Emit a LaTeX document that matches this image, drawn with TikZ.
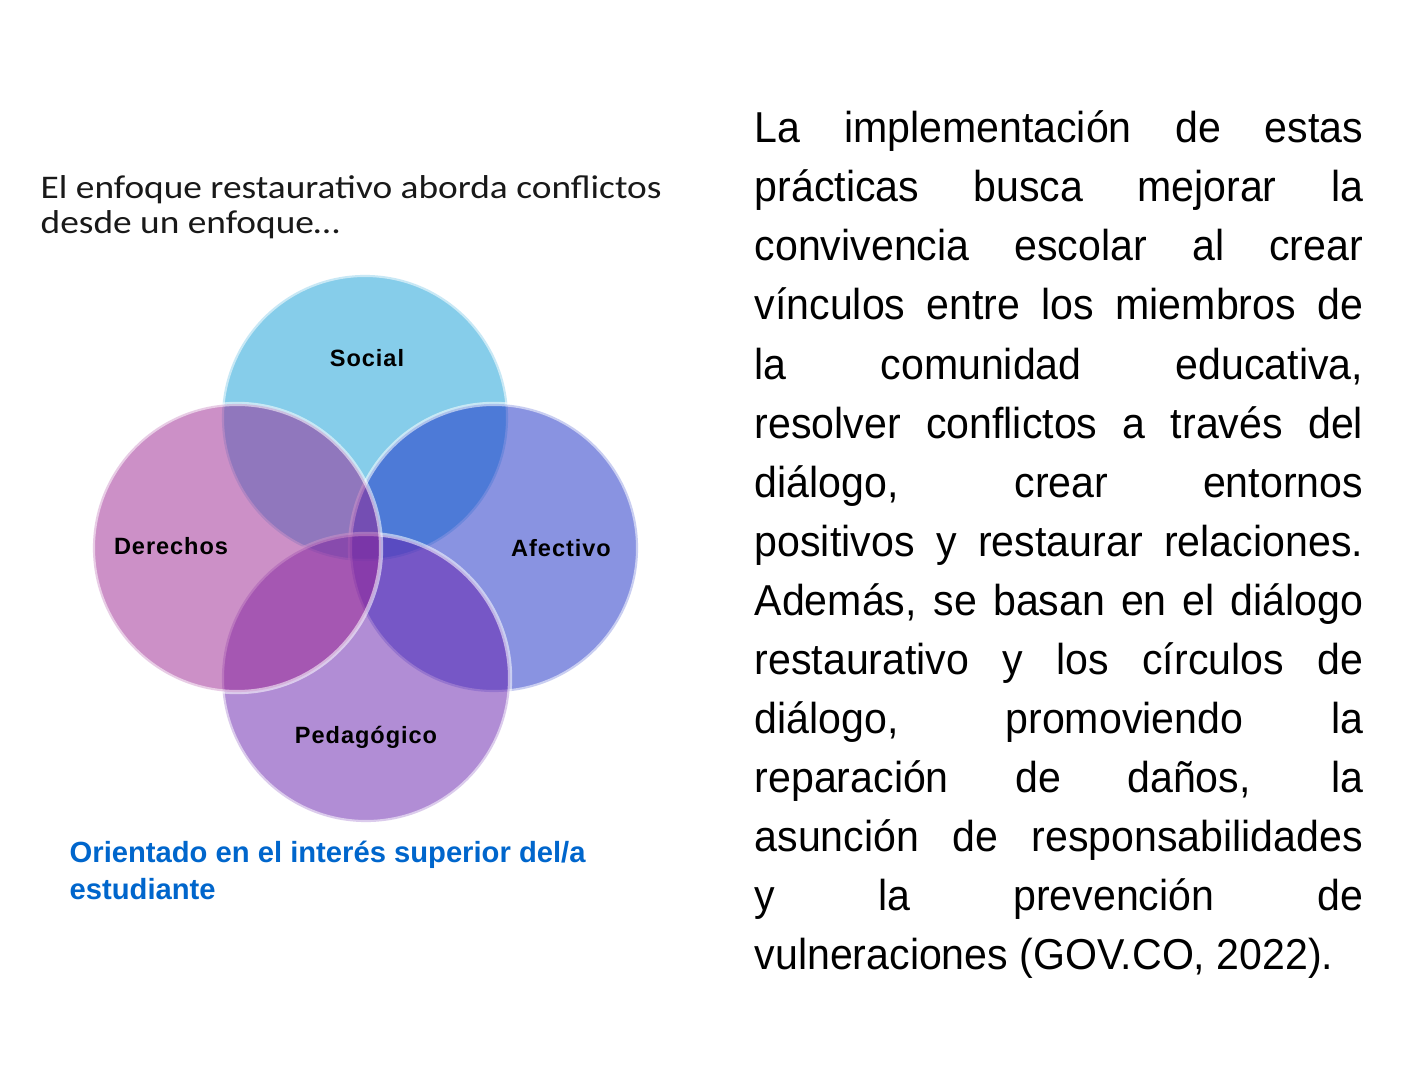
\documentclass[tikz,border=0pt]{standalone}
\usepackage{fontspec}
\setmainfont{Liberation Sans}
\newfontfamily\titlefont[FakeStretch=1.13]{Carlito}
\newfontfamily\labelfont[LetterSpace=4]{Liberation Sans}
\newfontfamily\parrafofont[FakeStretch=0.95]{Liberation Sans}
\usetikzlibrary{positioning}
\definecolor{social}{RGB}{15,157,215}
\definecolor{derechos}{RGB}{155,35,145}
\definecolor{afectivo}{RGB}{21,41,197}
\definecolor{pedagogico}{RGB}{101,29,173}
\definecolor{nota}{RGB}{0,102,204}
\tolerance=10000
\hyphenpenalty=10000
\exhyphenpenalty=10000

\begin{document}
\begin{tikzpicture}[x=0.01cm, y=-0.01cm,
  aro/.style={fill opacity=0.5, draw=white, draw opacity=0.55, line width=1.2pt},
  rotulo/.style={font=\labelfont\bfseries\fontsize{6.7}{8}\selectfont, inner sep=0pt}]

% Background
\fill[white] (0,0) rectangle (1410,1080);

% Circles
\filldraw[social, aro] (365,418) circle (1.43cm);
\filldraw[afectivo, aro] (494,548) circle (1.44cm);
\filldraw[pedagogico, aro] (366,678) circle (1.44cm);
\filldraw[derechos, aro] (237,548) circle (1.44cm);

% Circle labels
\node[rotulo] (soc) at (367,358) {Social};
\node[rotulo] (der) at (171,546) {Derechos};
\node[rotulo] (afe) at (561,548) {Afectivo};
\node[rotulo] (ped) at (366,737) {Pedagógico};

% Title
\node[anchor=north west, inner sep=0pt, align=left,
  font=\titlefont\fontsize{9.4}{9.9}\selectfont, text=black!90] (titulo) at (40,158)
  {\rule{0pt}{0.4cm}El enfoque restaurativo aborda conflictos\\desde un enfoque…};

% Note
\node[anchor=north west, inner sep=0pt, align=left,
  font=\bfseries\fontsize{8.3}{10.5}\selectfont, text=nota] (nota) at (69,822)
  {\rule{0pt}{0.4cm}Orientado en el interés superior del/a\\estudiante};

% Paragraph
\node[anchor=north west, inner sep=0pt, text width=6.08cm, align=justify,
  font=\parrafofont\fontsize{12.3}{16.8}\selectfont] (texto) at (754,97)
  {\noindent\rule{0pt}{0.45cm}La implementación de estas\linebreak
  prácticas busca mejorar la\linebreak
  convivencia escolar al crear\linebreak
  vínculos entre los miembros de\linebreak
  la comunidad educativa,\linebreak
  resolver conflictos a través del\linebreak
  diálogo, crear entornos\linebreak
  positivos y restaurar relaciones.\linebreak
  Además, se basan en el diálogo\linebreak
  restaurativo y los círculos de\linebreak
  diálogo, promoviendo la\linebreak
  reparación de daños, la\linebreak
  asunción de responsabilidades\linebreak
  y la prevención de\linebreak
  vulneraciones (GOV.CO, 2022).\hspace*{\fill}};

\end{tikzpicture}
\end{document}
